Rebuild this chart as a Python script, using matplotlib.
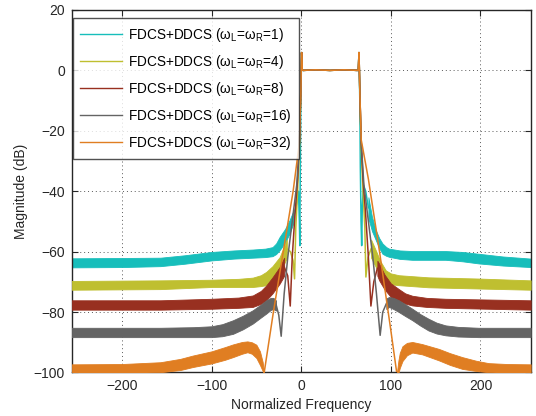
import matplotlib
matplotlib.use("Agg")
import matplotlib.pyplot as plt
from matplotlib.lines import Line2D

plt.rcParams['font.family'] = ['Liberation Sans', 'DejaVu Sans']
plt.rcParams['mathtext.fontset'] = 'custom'
plt.rcParams['mathtext.rm'] = 'Liberation Sans'
plt.rcParams['mathtext.it'] = 'Liberation Sans:italic'

labels = ['FDCS+DDCS (ω$_\\mathrm{L}$=ω$_\\mathrm{R}$=1)',
          'FDCS+DDCS (ω$_\\mathrm{L}$=ω$_\\mathrm{R}$=4)',
          'FDCS+DDCS (ω$_\\mathrm{L}$=ω$_\\mathrm{R}$=8)',
          'FDCS+DDCS (ω$_\\mathrm{L}$=ω$_\\mathrm{R}$=16)',
          'FDCS+DDCS (ω$_\\mathrm{L}$=ω$_\\mathrm{R}$=32)']
colors = ['#17bebb', '#bfbf30', '#983020', '#646464', '#e07e22']

# passband (shared by all series)
pass_x = [0.5, 1.2, 2, 16, 32, 48, 63, 63.8, 64.5]
pass_y = [5.9, 0.3, 0, 0.2, 0, 0.2, 0, 0.3, 5.9]

# left stopband envelopes (x, upper, lower)
bandL_x = [
    [-256, -200, -157, -130, -100, -75, -54, -40, -32, -28, -24, -18, -13, -8],
    [-256, -157, -100, -70, -54, -45, -39, -32, -24, -16],
    [-256, -157, -100, -70, -54, -45, -39, -32, -24, -19],
    [-256, -157, -120, -100, -88, -76, -65, -54, -45, -39, -34, -31, -28],
    [-256, -200, -157, -135, -121, -100, -85, -76, -66, -60, -55, -50, -46, -43, -41.5],
]
bandL_hi = [
    [-62.2, -62.1, -62.0, -61.2, -60.1, -59.6, -59.3, -59.0, -58.5, -57.3, -55.1, -52.5, -49.6, -46],
    [-69.7, -69.5, -69.3, -69.0, -68.6, -67.8, -66.7, -64.8, -61.8, -56],
    [-76.1, -76.1, -75.6, -75.2, -74.5, -73.0, -71.2, -68.5, -65.1, -62],
    [-85.2, -85.2, -85.0, -84.7, -84.0, -82.7, -81.2, -79.4, -77.5, -76.1, -75.3, -75.3, -76.2],
    [-97.3, -97.2, -96.6, -95.5, -94.4, -93.0, -91.6, -90.7, -89.9, -89.7, -90.0, -90.8, -93.0, -96.5, -100],
]
bandL_lo = [
    [-65.2, -65.1, -64.8, -64.0, -62.9, -62.3, -62.0, -61.8, -61.5, -60.8, -59.5, -57.0, -54, -50],
    [-72.6, -72.4, -71.7, -71.7, -71.7, -71.4, -71.1, -69.6, -67.3, -62],
    [-79.2, -79.2, -78.9, -78.6, -78.3, -77.3, -76.1, -73.8, -70.6, -68],
    [-88.3, -88.3, -88.3, -88.3, -88.0, -87.2, -85.7, -83.8, -81.8, -80.5, -79.3, -79.0, -79.5],
    [-100.3, -100.2, -99.9, -99.2, -98.2, -97.0, -95.8, -94.9, -93.8, -93.3, -93.8, -95.2, -97.5, -99.5, -100.5],
]

# right stopband envelopes
bandR_x = [
    [75, 79, 83.3, 87, 90.7, 95, 98, 110, 124, 161, 180, 198, 225, 256],
    [78, 83.3, 88, 94.4, 100, 109, 142, 198, 256],
    [85, 87, 93, 100, 109, 116, 124, 140, 161, 256],
    [95, 98, 103, 109, 116, 124, 133, 142, 151, 161, 175, 198, 256],
    [106.8, 108.5, 110, 113, 118, 124, 135, 153.7, 166, 179.6, 195, 209, 230, 256],
]
bandR_hi = [
    [-42, -48.5, -52.9, -55.5, -57.3, -58.5, -59.0, -59.6, -59.8, -59.8, -60.1, -60.7, -61.6, -62.3],
    [-56, -59.6, -63.0, -66.2, -67.2, -67.8, -68.5, -68.9, -69.5],
    [-63, -64, -67.6, -70.5, -72.4, -73.8, -74.6, -75.3, -75.6, -76.1],
    [-75.5, -75.0, -75.3, -76.1, -77.4, -78.9, -80.7, -82.2, -83.5, -84.4, -84.9, -85.2, -85.2],
    [-100, -96, -93.5, -91.3, -90.2, -89.9, -90.6, -92.2, -93.6, -94.9, -96.1, -96.9, -97.2, -97.3],
]
bandR_lo = [
    [-49, -53.2, -56.2, -58.8, -60.7, -61.4, -61.7, -62.4, -62.7, -62.7, -63.2, -63.9, -64.6, -65.1],
    [-62, -65.1, -68.0, -70.2, -70.8, -71.1, -71.8, -72.2, -72.6],
    [-68, -69.5, -72.5, -75.0, -76.3, -77.2, -77.8, -78.3, -78.6, -79.2],
    [-79, -78.3, -79.0, -80.0, -81.3, -82.7, -84.5, -86.1, -87.1, -87.7, -88.1, -88.3, -88.3],
    [-100.5, -100.2, -98.5, -96.2, -94.3, -93.4, -94.0, -96.0, -97.5, -98.8, -99.5, -99.9, -100.2, -100.3],
]

# transition lines (left side, toward passband)
transL_x = [
    [-8, -5, -3, -2, -1.5, -1, -0.4],
    [-16, -12, -9, -7.4, -6, -4, -2, -0.5],
    [-19, -15, -12.2, -10, -7, -4, -2, -0.5],
    [-28, -25, -22.3, -19, -15, -10, -5, -2, -0.5],
    [-41.5, -31, -20, -9, -2, -0.5],
]
transL_y = [
    [-48, -44, -40, -50, -58, -32, -10],
    [-59, -60, -63, -69, -52, -40, -26, -8],
    [-65, -68, -78, -62, -48, -36, -24, -8],
    [-77.5, -81, -88, -74, -62, -50, -38, -24, -8],
    [-100.5, -80, -60, -40, -24, -8],
]
# transition lines (right side, away from passband)
transR_x = [
    [65.4, 66, 66.8, 67.5, 68.2, 69.5, 72, 75],
    [65.5, 67, 69, 71, 72.2, 74.5, 78],
    [65.5, 67, 69, 72, 75, 77.8, 81, 85],
    [65.5, 67, 70, 75, 80, 84, 88.1, 91, 95],
    [65.5, 67, 75, 87.4, 100, 106.8],
]
transR_y = [
    [-10, -32, -50, -58, -45, -38, -40, -45.5],
    [-8, -26, -40, -52, -68.4, -62, -59],
    [-8, -24, -36, -48, -62, -78, -70, -65.5],
    [-8, -24, -38, -50, -62, -74, -87.7, -80, -77.2],
    [-8, -23, -36, -60, -86, -100.5],
]

fig = plt.figure(figsize=(5.36, 4.16), dpi=100)
ax = fig.add_axes([0.1338, 0.1046, 0.8562, 0.8714])

for i in range(5):
    c = colors[i]
    ax.fill_between(bandL_x[i], bandL_lo[i], bandL_hi[i], color=c, lw=0.6, zorder=2 + i)
    ax.fill_between(bandR_x[i], bandR_lo[i], bandR_hi[i], color=c, lw=0.6, zorder=2 + i)
    lx = transL_x[i] + pass_x + transR_x[i]
    ly = transL_y[i] + pass_y + transR_y[i]
    ax.plot(lx, ly, color=c, lw=1.1, zorder=2 + i)

ax.set_xlim(-256, 256)
ax.set_ylim(-100, 20)
ax.set_xticks([-200, -100, 0, 100, 200])
ax.set_yticks([-100, -80, -60, -40, -20, 0, 20])
ax.set_xticklabels(['\u2212200', '\u2212100', '0', '100', '200'])
ax.set_yticklabels(['\u2212100', '\u221280', '\u221260', '\u221240', '\u221220', '0', '20'])
ax.grid(True, linestyle=(0, (1, 3)), color='0.35', lw=0.7)
ax.set_axisbelow(True)
ax.tick_params(direction='in', top=True, right=True, length=4, width=0.8,
               labelsize=10, colors='#262626', pad=5)
for s in ax.spines.values():
    s.set_color('#262626')
    s.set_linewidth(1.0)
ax.set_xlabel('Normalized Frequency', fontsize=10, color='#262626', labelpad=3)
ax.set_ylabel('Magnitude (dB)', fontsize=10, color='#262626', labelpad=4)

handles = [Line2D([], [], color=c, lw=1.0) for c in colors]
leg = ax.legend(handles, labels, loc='upper left', bbox_to_anchor=(0.002, 0.977),
                fontsize=9.8, frameon=True, fancybox=False, edgecolor='#262626',
                handlelength=3.1, handletextpad=0.45, labelspacing=0.66,
                borderaxespad=0.0, borderpad=0.55)
leg.get_frame().set_linewidth(1.0)
leg.set_zorder(20)

fig.savefig('out.png', dpi=100)
